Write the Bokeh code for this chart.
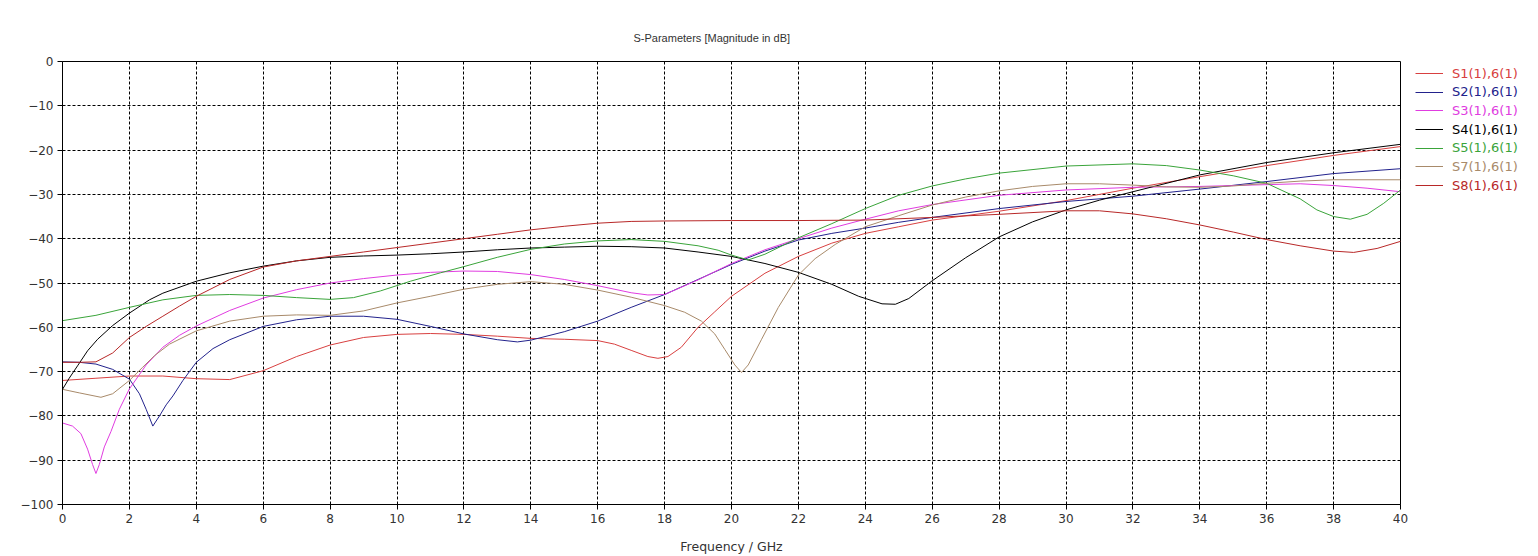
from bokeh.plotting import figure
from bokeh.layouts import row
from bokeh.models import Range1d, FixedTicker, Legend, LegendItem, Title
from bokeh.embed import file_html
from bokeh.resources import INLINE

# ---------------- data ----------------
names = ["S1(1),6(1)", "S2(1),6(1)", "S3(1),6(1)", "S4(1),6(1)",
         "S5(1),6(1)", "S7(1),6(1)", "S8(1),6(1)"]
colors = ["#d84040", "#22228c", "#e03ce0", "#000000",
          "#3aa43a", "#a88a6a", "#b82828"]

s1_f = [0, 1, 2, 3, 4, 5, 6, 7, 8, 9, 10, 11, 12, 13, 14, 15, 16, 16.5, 17, 17.5,
        17.8, 18.1, 18.5, 19, 19.5, 20, 21, 22, 23, 24, 25, 26, 28, 30, 32, 34, 36, 38, 40]
s1_db = [-72, -71.5, -71, -71, -71.6, -71.8, -69.8, -66.6, -64, -62.3, -61.6, -61.4,
         -61.6, -62, -62.5, -62.7, -63, -63.8, -65.2, -66.6, -67, -66.6, -64.5, -60,
         -56.5, -53, -47.8, -44, -41, -38.8, -37.3, -35.8, -33.8, -31.4, -28.6, -26,
         -23.5, -21.2, -19.2]

s2_f = [0, 0.5, 1, 1.5, 2, 2.3, 2.5, 2.7, 2.9, 3.1, 3.3, 3.6, 4, 4.5, 5, 6, 7, 8, 9,
        10, 11, 12, 13, 13.6, 14, 15, 16, 17, 18, 19, 20, 21, 22, 23, 24, 25, 26, 28,
        30, 32, 34, 36, 38, 40]
s2_db = [-67.8, -67.9, -68.3, -69.5, -71.7, -75, -78.5, -82.3, -80, -77.5, -75.5,
         -72, -67.9, -64.8, -62.8, -59.8, -58.3, -57.5, -57.5, -58.2, -59.8, -61.5,
         -62.8, -63.3, -62.9, -61, -58.6, -55.5, -52.6, -49.2, -45.8, -42.8, -40.3,
         -38.8, -37.6, -36.3, -35.2, -33.2, -31.6, -30.4, -28.8, -27.1, -25.3, -24.2]

s3_f = [0, 0.3, 0.55, 0.75, 0.9, 1.0, 1.1, 1.25, 1.45, 1.7, 2, 2.5, 3, 3.5, 4, 5, 6,
        7, 8, 9, 10, 11, 12, 13, 14, 15, 16, 17, 17.5, 18, 19, 20, 21, 22, 23, 24, 25,
        26, 28, 30, 32, 34, 36, 37, 38, 39, 40]
s3_db = [-81.6, -82.3, -84, -87.5, -91, -93, -91, -87, -83.5, -78.5, -73.9, -68.5,
         -64.5, -61.8, -59.7, -56.2, -53.4, -51.5, -50, -49, -48.2, -47.6, -47.3,
         -47.4, -48.1, -49.2, -50.6, -52.2, -52.7, -52.6, -49.3, -45.6, -42.5, -40,
         -37.6, -35.6, -33.7, -32.3, -30.2, -29, -28.4, -28.2, -27.8, -27.6, -28,
         -28.6, -29.4]

s4_f = [0, 0.2, 0.45, 0.75, 1.05, 1.5, 2, 2.6, 3, 4, 5, 6, 7, 8, 9, 10, 11, 12, 13,
        14, 15, 16, 17, 18, 19, 20, 21, 22, 23, 23.8, 24.5, 24.9, 25.3, 26, 27, 28,
        29, 30, 31, 32, 34, 36, 38, 40]
s4_db = [-74, -71.5, -68.7, -65.3, -62.7, -59.6, -56.8, -53.8, -52.3, -49.6, -47.7,
         -46.2, -45, -44.2, -43.9, -43.7, -43.4, -43, -42.5, -42.1, -41.9, -41.7,
         -41.8, -42.1, -43, -44, -45.6, -47.6, -50.3, -53, -54.7, -54.8, -53.5, -49.5,
         -44.3, -39.6, -36.2, -33.5, -31.3, -29.4, -25.6, -22.8, -20.6, -18.7]

s5_f = [0, 1, 2, 3, 4, 5, 6, 7, 8, 8.7, 9.5, 10.4, 11.3, 12, 13, 14, 15, 16, 17, 18,
        19, 19.6, 20, 20.5, 21, 22, 23, 24, 25, 26, 27, 28, 30, 32, 33, 34, 35, 36, 37,
        37.5, 38, 38.5, 39, 39.5, 40]
s5_db = [-58.5, -57.3, -55.5, -53.8, -52.8, -52.6, -52.8, -53.3, -53.7, -53.3, -51.8,
         -49.6, -47.7, -46.3, -44.2, -42.4, -41.2, -40.5, -40.2, -40.6, -41.6, -42.6,
         -43.7, -44.8, -43.5, -39.8, -36.6, -33.2, -30.2, -28.1, -26.5, -25.2, -23.6,
         -23.1, -23.5, -24.5, -25.8, -27.5, -31, -33.5, -35, -35.6, -34.5, -32, -29]

s7_f = [0, 0.5, 1.15, 1.5, 2, 2.4, 2.75, 3.2, 4, 5, 6, 7, 8, 9, 10, 11, 12, 13, 14,
        15, 16, 17, 18, 18.6, 19.1, 19.5, 19.8, 20.1, 20.3, 20.5, 20.9, 21.4, 22, 22.5,
        23.1, 24, 25, 26, 27, 28, 29, 30, 31, 32, 33, 34, 35, 36, 37, 38, 40]
s7_db = [-74, -74.8, -75.8, -75, -72, -69, -66.4, -63.8, -60.8, -58.6, -57.5, -57.2,
         -57.3, -56.3, -54.5, -53, -51.4, -50.3, -49.7, -50.3, -51.6, -53.2, -55.1,
         -56.6, -58.6, -61.5, -65, -68.5, -70.2, -68.5, -62.7, -55.5, -48.2, -44.5,
         -41.3, -37.3, -34.8, -32.4, -30.6, -29.2, -28.2, -27.6, -27.6, -27.9, -28.3,
         -28.4, -28.1, -27.5, -27, -26.7, -26.7]

s8_f = [0, 0.5, 1, 1.5, 2, 2.5, 3, 3.5, 4, 5, 6, 7, 8, 9, 10, 11, 12, 13, 14, 15, 16,
        17, 18, 20, 22, 24, 26, 28, 30, 31, 32, 33, 34, 35, 36, 37, 38, 38.6, 39.3, 40]
s8_db = [-67.9, -67.9, -67.8, -65.8, -62.3, -59.8, -57.5, -55.2, -53, -49.2, -46.4,
         -45, -44, -43, -42, -41, -40, -39, -38, -37.2, -36.5, -36.1, -36, -35.9,
         -35.9, -35.8, -35.2, -34.5, -33.7, -33.7, -34.4, -35.5, -36.9, -38.5, -40.2,
         -41.6, -42.8, -43.1, -42.2, -40.6]

series_f = [s1_f, s2_f, s3_f, s4_f, s5_f, s7_f, s8_f]
series_db = [s1_db, s2_db, s3_db, s4_db, s5_db, s7_db, s8_db]

x_ticks = list(range(0, 41, 2))
y_ticks = list(range(-100, 1, 10))

title_text = "S-Parameters [Magnitude in dB]"
x_label = "Frequency / GHz"

FONT = "DejaVu Sans"
TFONT = "Liberation Sans"

# ---------------- main figure ----------------
p = figure(width=1410, height=556, output_backend="svg", toolbar_location=None,
           x_range=Range1d(0, 40), y_range=Range1d(-100, 0),
           min_border_left=62, min_border_right=10, min_border_top=61,
           min_border_bottom=50)
p.background_fill_color = "white"
p.border_fill_color = "white"
p.outline_line_color = "black"
p.outline_line_alpha = 1.0
p.outline_line_width = 1

p.title = Title(text=title_text, align="left", offset=571, text_font=TFONT,
                text_font_size="11px", text_font_style="normal",
                text_color="#333333", standoff=36)

for ax in (p.xaxis[0], p.yaxis[0]):
    ax.axis_line_color = "black"
    ax.major_tick_line_color = "black"
    ax.major_tick_out = 5
    ax.major_tick_in = 0
    ax.minor_tick_line_color = None
    ax.major_label_text_font = FONT
    ax.major_label_text_font_size = "12px"
    ax.major_label_text_color = "#333333"

p.xaxis[0].ticker = FixedTicker(ticks=x_ticks)
p.yaxis[0].ticker = FixedTicker(ticks=y_ticks)
p.xaxis[0].major_label_standoff = 4
p.yaxis[0].major_label_standoff = 4
p.xaxis[0].axis_label = x_label
p.xaxis[0].axis_label_text_font = FONT
p.xaxis[0].axis_label_text_font_size = "12.5px"
p.xaxis[0].axis_label_text_font_style = "normal"
p.xaxis[0].axis_label_text_color = "#333333"
p.xaxis[0].axis_label_standoff = 13

for g in (p.xgrid[0], p.ygrid[0]):
    g.grid_line_color = "black"
    g.grid_line_dash = "3 2"
    g.grid_line_width = 1
    g.grid_line_alpha = 1.0
p.xgrid[0].ticker = FixedTicker(ticks=x_ticks)
p.ygrid[0].ticker = FixedTicker(ticks=y_ticks)

for f, db, c in zip(series_f, series_db, colors):
    p.line(f, db, line_color=c, line_width=1)

# ---------------- legend panel (right of the plot) ----------------
q = figure(width=128, height=556, output_backend="svg", toolbar_location=None,
           x_range=Range1d(0, 1), y_range=Range1d(0, 1),
           x_axis_type=None, y_axis_type=None,
           min_border_left=0, min_border_right=0, min_border_top=0,
           min_border_bottom=0)
q.outline_line_color = None
q.background_fill_color = "white"
q.border_fill_color = "white"
q.xgrid.visible = False
q.ygrid.visible = False

frame_bottom = 506
for i, (name, c) in enumerate(zip(names, colors)):
    # proxy renderer lying outside the (hidden) range, only used for the legend key
    r = q.line([5, 6], [5, 6], line_color=c, line_width=1)
    center = 75 + 18.67 * i
    vy = frame_bottom - (center + 9)
    lg = Legend(items=[LegendItem(label=name, renderers=[r])],
                location=(5, vy), orientation="vertical",
                padding=0, margin=0, spacing=0,
                glyph_width=28, glyph_height=18, label_height=18,
                label_standoff=9,
                label_text_font=FONT, label_text_font_size="13px",
                label_text_color=c,
                background_fill_alpha=0, border_line_alpha=0)
    q.add_layout(lg, "center")

layout = row(p, q, spacing=0)
open("out.html", "w").write(file_html(layout, INLINE))
